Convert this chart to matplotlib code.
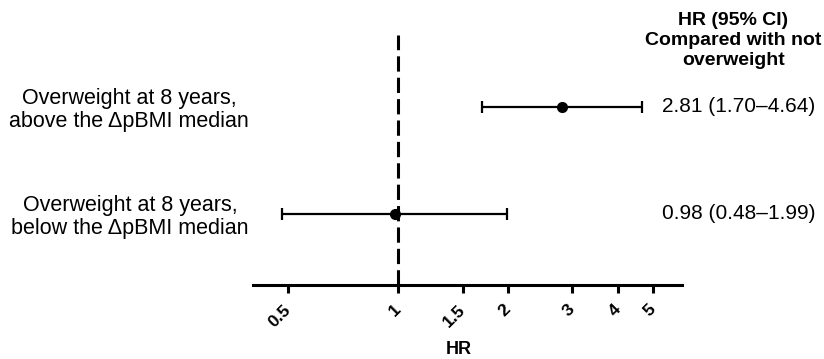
import matplotlib.pyplot as plt
from matplotlib.ticker import FixedLocator, NullLocator

plt.rcParams["font.family"] = ["Liberation Sans", "DejaVu Sans"]

ROW_LABELS = [
    "Overweight at 8 years,\nbelow the ΔpBMI median",
    "Overweight at 8 years,\nabove the ΔpBMI median",
]
HR = [0.98, 2.81]
CI_LOW = [0.48, 1.70]
CI_HIGH = [1.99, 4.64]
HR_TEXT = ["0.98 (0.48–1.99)", "2.81 (1.70–4.64)"]
X_TICKS = [0.5, 1, 1.5, 2, 3, 4, 5]
X_TICK_LABELS = ["0.5", "1", "1.5", "2", "3", "4", "5"]


def main():
    fig = plt.figure(figsize=(8.24, 3.59), dpi=100)
    ax = fig.add_axes([0.307, 0.206, 0.521, 0.696])

    rows = [1, 2]
    err = [
        [h - lo for h, lo in zip(HR, CI_LOW)],
        [hi - h for h, hi in zip(HR, CI_HIGH)],
    ]
    ax.errorbar(
        HR,
        rows,
        xerr=err,
        fmt="o",
        color="black",
        markersize=7,
        elinewidth=1.6,
        capsize=4.3,
        capthick=1.6,
        zorder=3,
    )

    ax.axvline(1, color="black", linewidth=2.2, linestyle=(0, (5, 2)), zorder=2)

    ax.set_xscale("log")
    ax.set_xlim(0.4, 6.0)
    ax.set_ylim(0.336, 2.67)

    ax.xaxis.set_major_locator(FixedLocator(X_TICKS))
    ax.xaxis.set_minor_locator(NullLocator())
    ax.set_xticklabels(X_TICK_LABELS, rotation=45, ha="right", va="center",
                       rotation_mode="anchor", fontsize=12.5, fontweight="bold")
    ax.tick_params(axis="x", length=6, width=2.2, pad=10)

    ax.set_yticks(rows)
    ax.set_yticklabels(ROW_LABELS, fontsize=15.5, multialignment="center",
                       linespacing=1.1)
    ax.tick_params(axis="y", length=0, pad=3)

    for side in ["top", "right", "left"]:
        ax.spines[side].set_visible(False)
    ax.spines["bottom"].set_linewidth(2.2)

    ax.set_xlabel("HR", fontsize=13, fontweight="bold", x=0.48, labelpad=8)

    for r, t in zip(rows, HR_TEXT):
        ax.text(0.953, r, t, transform=ax.get_yaxis_transform(),
                ha="left", va="center", fontsize=15, clip_on=False)

    ax.text(1.119, 2.62, "HR (95% CI)\nCompared with not\noverweight",
            transform=ax.get_yaxis_transform(), ha="center", va="center",
            fontsize=14, fontweight="bold", multialignment="center",
            linespacing=1.2, clip_on=False)

    fig.savefig("out.png", dpi=100)


if __name__ == "__main__":
    main()
